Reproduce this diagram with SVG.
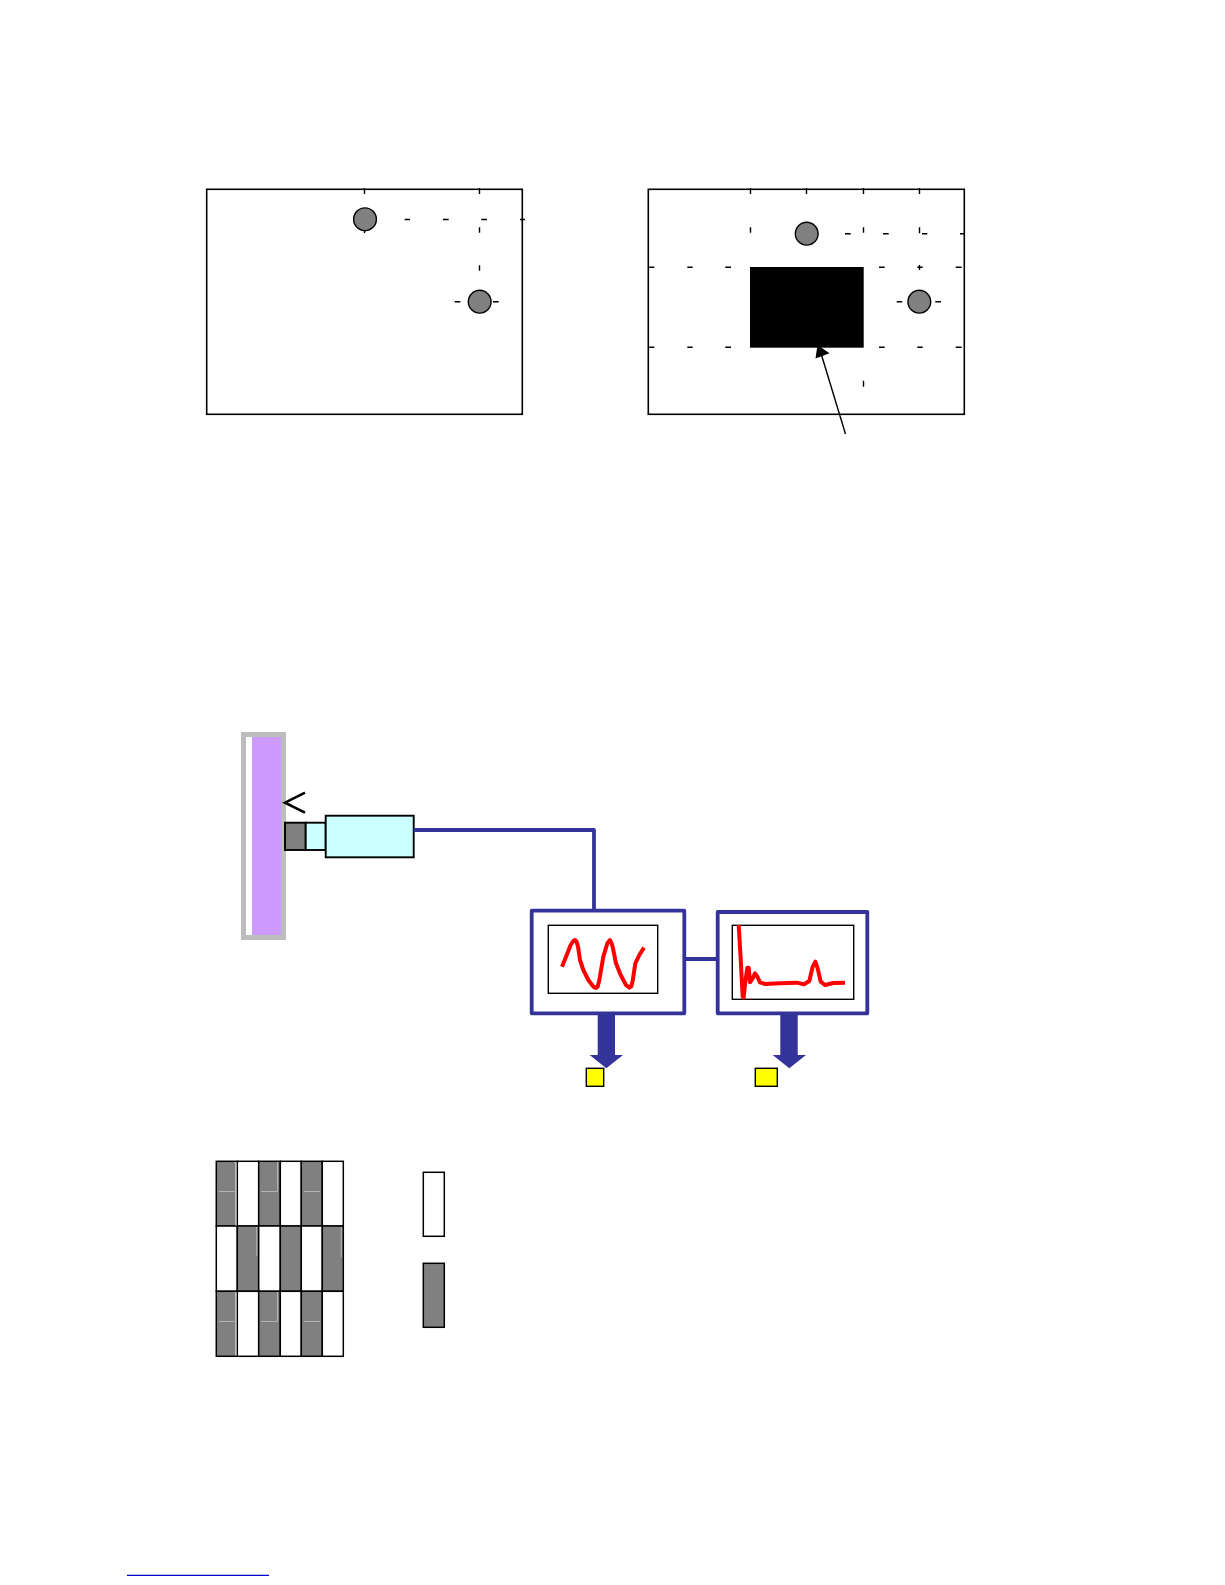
<svg xmlns="http://www.w3.org/2000/svg" width="1225" height="1585" viewBox="0 0 1225 1585">
<style>
.frame{fill:#fff;stroke:#000;stroke-width:1.6}
.dot{fill:#808080;stroke:#000;stroke-width:1.4}
.tick{stroke:#000;stroke-width:1.4;fill:none}
.dark{fill:#808080}
.cell{stroke:#000;stroke-width:1.5}
.lite{stroke:#b4b4b4;stroke-width:1;fill:none}
.pale{stroke:#e4e4e4;stroke-width:1.2;fill:none}
.wire{fill:none;stroke:#333399;stroke-width:3.8;stroke-linejoin:round}
.panel{fill:#fff;stroke:#333399;stroke-width:3.8;stroke-linejoin:round}
.inner{fill:#fff;stroke:#000;stroke-width:1.4}
.cy{fill:#ccffff;stroke:#000;stroke-width:1.9}
.curve{fill:none;stroke:#ff0000;stroke-width:12;stroke-linejoin:round}
.flow{fill:#333399}
.yel{fill:#ffff00;stroke:#000;stroke-width:1.4}
</style>
<rect width="1225" height="1585" fill="#fff"/>
<g id="plot-left">
<rect class="frame" x="206.700" y="189.300" width="315.600" height="225"/>
<path class="tick" d="M364.500 188v6M364.500 230v3M479.500 188v6M479.500 227.300v5.400M479.500 265.300v5.400M404.700 219.500h5.300M443 219.500h5.700M481.300 219.500h5.700M520 219.500h5M454.700 301.700h5.600M493 301.700h5.700"/>
<circle class="dot" cx="365" cy="219.300" r="11.400"/>
<circle class="dot" cx="479.700" cy="301.700" r="11.400"/>
</g>
<g id="plot-right">
<rect class="frame" x="648.300" y="189.300" width="316" height="225"/>
<path class="tick" d="M750.500 188v6M750.500 227.300v5.400M806.500 188v6M863.500 188v6M863.500 227.300v5.400M863.500 380.700v6M919.500 188v6M919.500 227.300v6M919.500 265v5M845 233.700h5.700M883 233.700h5.700M922 233.700h5.300M960 233.700h5M649.300 267.300h5M687.300 267.300h5.400M725.300 267.300h5.700M879 267.300h5.700M917.300 267.300h5.400M955.700 267.300h6M649.300 347.300h5M687.300 347.300h5.400M725.300 347.300h5.700M879 347.300h5.700M917.300 347.300h5.400M955.700 347.300h6M896.700 301.700h5.600M935.300 301.700h5.700"/>
<rect x="750" y="267" width="113.700" height="80.700" fill="#000"/>
<circle class="dot" cx="806.700" cy="233.700" r="11.400"/>
<circle class="dot" cx="919.300" cy="301.700" r="11.400"/>
</g>
<g id="callout">
<path d="M845.500 434L821.500 355" fill="none" stroke="#000" stroke-width="1.400"/>
<path d="M817.500 345L829.500 353.300L815.500 358.500Z" fill="#000"/>
</g>
<g id="specimen">
<rect x="243.500" y="734.500" width="40" height="203" fill="#fff" stroke="#bdbdbd" stroke-width="5"/>
<rect x="252" y="737" width="29" height="198" fill="#cc99ff"/>
<path d="M305 792.700L285 802.700L305 812.700" fill="none" stroke="#000" stroke-width="2.600"/>
</g>
<g id="probe">
<rect class="dark" x="285" y="822.700" width="20.700" height="27.300" stroke="#000" stroke-width="1.900"/>
<rect class="cy" x="305.700" y="822.700" width="20" height="27.300"/>
<rect class="cy" x="325.700" y="815.700" width="88" height="41.600"/>
</g>
<g id="connectors">
<path class="wire" d="M413.700 830H594V910.700"/>
<path class="wire" d="M684.300 959H717.700"/>
<path class="flow" d="M597.700 1013.300H615V1055H623L606.300 1068.300L589.700 1055H597.700Z"/>
<path class="flow" d="M780.300 1013.300H797.700V1055H806L789.300 1068.300L772.700 1055H780.300Z"/>
</g>
<g id="scope-a">
<rect class="panel" x="531.700" y="910.700" width="152.600" height="102.600"/>
<rect class="inner" x="548.300" y="925.300" width="109.400" height="68"/>
<polyline class="curve" transform="translate(550 925) scale(.3333)" points="36,125 48,95 62,60 70,48 75,45 80,50 84,65 90,105 100,135 115,165 130,185 138,189 143,185 148,165 160,95 172,55 180,45 186,58 190,75 198,115 212,150 228,180 238,188 244,184 248,168 256,115 268,90 282,68"/>
</g>
<g id="scope-b">
<rect class="panel" x="717.700" y="912" width="149.600" height="101.300"/>
<rect class="inner" x="732.300" y="925.300" width="121.400" height="74"/>
<polyline class="curve" transform="translate(730 925) scale(.3333)" points="26,0 32,100 38,215 41,218 46,170 52,128 56,128 60,172 68,160 75,145 82,155 90,172 105,177 150,175 200,173 222,178 238,168 248,125 256,110 263,130 272,170 285,180 310,174 345,173"/>
</g>
<g id="output-a"><rect class="yel" x="586.300" y="1068.300" width="17.400" height="18"/></g>
<g id="output-b"><rect class="yel" x="755.300" y="1068.300" width="22" height="18"/></g>
<g id="grid">
<rect class="cell dark" x="216.300" y="1161.300" width="21" height="64.700"/>
<rect class="cell" fill="#fff" x="237.300" y="1161.300" width="21.400" height="64.700"/>
<rect class="cell dark" x="258.700" y="1161.300" width="21.600" height="64.700"/>
<rect class="cell" fill="#fff" x="280.300" y="1161.300" width="21" height="64.700"/>
<rect class="cell dark" x="301.300" y="1161.300" width="21" height="64.700"/>
<rect class="cell" fill="#fff" x="322.300" y="1161.300" width="21" height="64.700"/>
<rect class="cell" fill="#fff" x="216.300" y="1226" width="21" height="65.300"/>
<rect class="cell dark" x="237.300" y="1226" width="21.400" height="65.300"/>
<rect class="cell" fill="#fff" x="258.700" y="1226" width="21.600" height="65.300"/>
<rect class="cell dark" x="280.300" y="1226" width="21" height="65.300"/>
<rect class="cell" fill="#fff" x="301.300" y="1226" width="21" height="65.300"/>
<rect class="cell dark" x="322.300" y="1226" width="21" height="65.300"/>
<rect class="cell dark" x="216.300" y="1291.300" width="21" height="65"/>
<rect class="cell" fill="#fff" x="237.300" y="1291.300" width="21.400" height="65"/>
<rect class="cell dark" x="258.700" y="1291.300" width="21.600" height="65"/>
<rect class="cell" fill="#fff" x="280.300" y="1291.300" width="21" height="65"/>
<rect class="cell dark" x="301.300" y="1291.300" width="21" height="65"/>
<rect class="cell" fill="#fff" x="322.300" y="1291.300" width="21" height="65"/>
<path class="pale" d="M236 1162V1225.500M236 1292V1355.500"/>
<path class="lite" d="M219 1191.500H234.300M261 1191.500H277.500V1162M304 1191.500H320M256.700 1227V1256M341.300 1227V1257M219 1321.500H234.300M261 1321.500H277.500V1292M304 1321.500H320"/>
</g>
<g id="legend-white"><rect class="cell" fill="#fff" x="423.300" y="1172.300" width="21" height="64"/></g>
<g id="legend-grey"><rect class="cell dark" x="423.300" y="1263.300" width="21" height="64"/></g>
<g id="footer-rule"><path d="M127 1575.300H269" stroke="#0000cc" stroke-width="1.300" fill="none"/></g>
</svg>
